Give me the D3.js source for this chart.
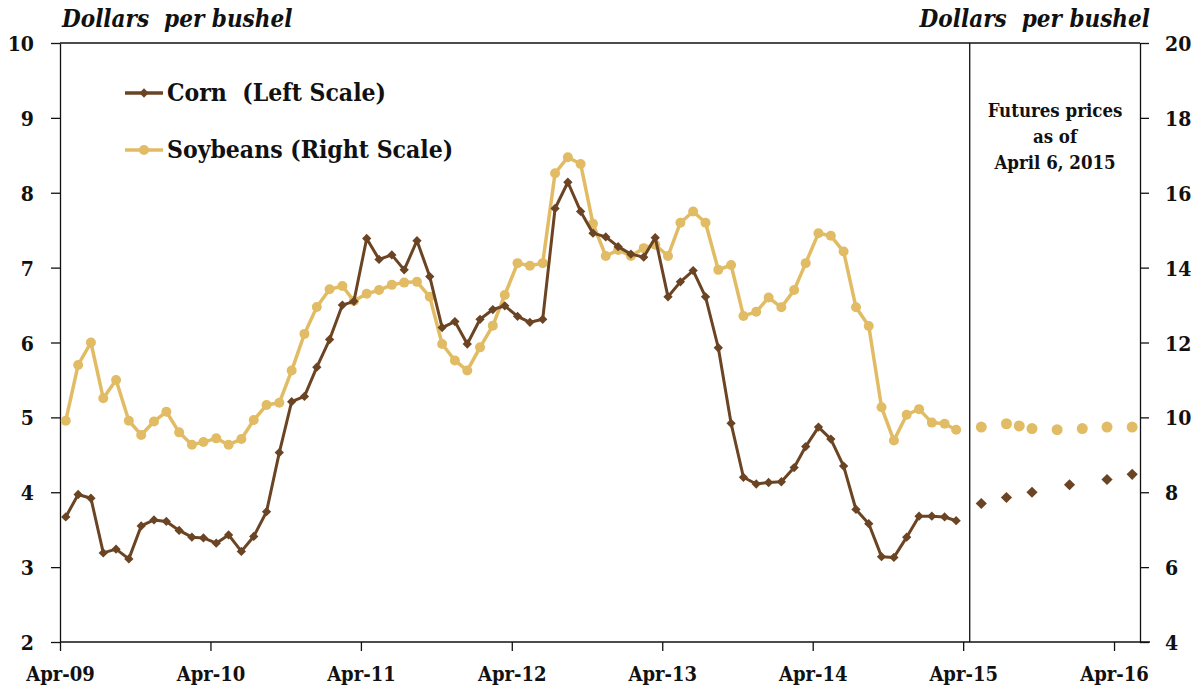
<!DOCTYPE html>
<html>
<head>
<meta charset="utf-8">
<script src="https://cdn.jsdelivr.net/npm/d3@7"></script>
<style>
	body { margin: 0; background: #fff; }
	text { font-family: "DejaVu Serif Condensed", "DejaVu Serif", serif; font-weight: bold; fill: #111; }
</style>
</head>
<body>
<div id="chart"></div>
<script>
// monthly averages Apr-09 .. Mar-15 (dollars per bushel)
var cornPrices = [3.67, 3.97, 3.92, 3.19, 3.24, 3.11, 3.55, 3.63, 3.61, 3.49, 3.40, 3.39,
	3.32, 3.43, 3.21, 3.41, 3.74, 4.53, 5.21, 5.28, 5.67, 6.04, 6.50, 6.55,
	7.39, 7.11, 7.17, 6.97, 7.36, 6.88, 6.20, 6.28, 5.98, 6.31, 6.44, 6.49,
	6.35, 6.27, 6.31, 7.79, 8.14, 7.75, 7.46, 7.41, 7.28, 7.18, 7.14, 7.40,
	6.61, 6.81, 6.96, 6.61, 5.93, 4.92, 4.20, 4.11, 4.13, 4.14, 4.33, 4.61,
	4.87, 4.71, 4.35, 3.77, 3.58, 3.14, 3.13, 3.40, 3.68, 3.68, 3.67, 3.62];

var soyPrices = [9.91, 11.40, 12.00, 10.51, 11.00, 9.91, 9.53, 9.89, 10.15, 9.60, 9.27, 9.34,
	9.44, 9.27, 9.42, 9.93, 10.33, 10.39, 11.25, 12.23, 12.95, 13.42, 13.51, 13.11,
	13.30, 13.40, 13.54, 13.60, 13.62, 13.22, 11.96, 11.52, 11.25, 11.87, 12.45, 13.27,
	14.12, 14.05, 14.12, 16.52, 16.95, 16.77, 15.17, 14.31, 14.47, 14.31, 14.52, 14.61,
	14.31, 15.20, 15.50, 15.20, 13.94, 14.07, 12.71, 12.82, 13.20, 12.94, 13.40, 14.12,
	14.92, 14.85, 14.43, 12.94, 12.44, 10.27, 9.38, 10.07, 10.22, 9.86, 9.83, 9.67];

// futures contracts as of April 6, 2015
var cornFutMonths = ["2015-05", "2015-07", "2015-09", "2015-12", "2016-03", "2016-05"];
var cornFutPrices = [3.85, 3.93, 4.00, 4.10, 4.17, 4.24];

var soyFutMonths = ["2015-05", "2015-07", "2015-08", "2015-09", "2015-11", "2016-01", "2016-03", "2016-05"];
var soyFutPrices = [9.74, 9.83, 9.77, 9.70, 9.67, 9.70, 9.74, 9.74];

var xTickLabels = ["Apr-09", "Apr-10", "Apr-11", "Apr-12", "Apr-13", "Apr-14", "Apr-15", "Apr-16"];
var leftTicks = [2, 3, 4, 5, 6, 7, 8, 9, 10];
var rightTicks = [4, 6, 8, 10, 12, 14, 16, 18, 20];

var cornColor = "#6b4423";
var soyColor = "#e1bc64";

var svgWidth = 1204;
var svgHeight = 694;

var plot = { left: 60, right: 1140, top: 43, bottom: 642 };

var svg = d3.select("#chart")
	.append("svg")
	.attr("width", svgWidth)
	.attr("height", svgHeight);

var parseMonth = d3.timeParse("%Y-%m");
var mid = d => d3.timeDay.offset(d, 14);

// historical months are the 72 months from Apr-09
var histMonths = d3.timeMonth.range(new Date(2009, 3, 1), new Date(2015, 3, 1));

var cornData = histMonths.map((m, i) => ({ date: mid(m), value: cornPrices[i] }));
var soyData = histMonths.map((m, i) => ({ date: mid(m), value: soyPrices[i] }));
var cornFut = cornFutMonths.map((m, i) => ({ date: mid(parseMonth(m)), value: cornFutPrices[i] }));
var soyFut = soyFutMonths.map((m, i) => ({ date: mid(parseMonth(m)), value: soyFutPrices[i] }));

var xScale = d3.scaleTime()
	.domain([new Date(2009, 3, 1), new Date(2016, 5, 3)])
	.range([plot.left, plot.right]);

var yLeft = d3.scaleLinear().domain([2, 10]).range([plot.bottom, plot.top]);
var yRight = d3.scaleLinear().domain([4, 20]).range([plot.bottom, plot.top]);

// axes
var xTicks = xTickLabels.map(s => d3.timeParse("%b-%y")(s));

var bottomAxis = d3.axisBottom(xScale)
	.tickValues(xTicks)
	.tickFormat((d, i) => xTickLabels[i])
	.tickSizeInner(9)
	.tickSizeOuter(0)
	.tickPadding(16);

var leftAxis = d3.axisLeft(yLeft)
	.tickValues(leftTicks)
	.tickSizeInner(9)
	.tickSizeOuter(0)
	.tickPadding(17);

var rightAxis = d3.axisRight(yRight)
	.tickValues(rightTicks)
	.tickSizeInner(9)
	.tickSizeOuter(0)
	.tickPadding(16);

var xAxisG = svg.append("g")
	.attr("transform", `translate(0, ${plot.bottom})`)
	.call(bottomAxis);

var leftG = svg.append("g")
	.attr("transform", `translate(${plot.left}, 0)`)
	.call(leftAxis);

var rightG = svg.append("g")
	.attr("transform", `translate(${plot.right}, 0)`)
	.call(rightAxis);

xAxisG.select(".domain").attr("d", `M${plot.left},0H${plot.right + 10}`);

[xAxisG, leftG, rightG].forEach(function(g) {
	g.attr("font-family", null);
	g.selectAll("path, line").attr("stroke", "#111").attr("stroke-width", 1.3);
	g.selectAll("text").attr("fill", "#111");
});
leftG.selectAll("text").attr("font-size", 21).attr("dy", "0.36em");
rightG.selectAll("text").attr("font-size", 21).attr("dy", "0.36em");
xAxisG.selectAll("text").attr("font-size", 20);

// top border
svg.append("line")
	.attr("x1", plot.left)
	.attr("x2", plot.right)
	.attr("y1", plot.top)
	.attr("y2", plot.top)
	.attr("stroke", "#111")
	.attr("stroke-width", 1.3);

// separator between history and futures
var sepX = (xScale(cornData[cornData.length - 1].date) + xScale(cornFut[0].date)) / 2 + 1;
svg.append("line")
	.attr("x1", sepX)
	.attr("x2", sepX)
	.attr("y1", plot.top)
	.attr("y2", plot.bottom)
	.attr("stroke", "#111")
	.attr("stroke-width", 1.3);

// lines
var cornLine = d3.line().x(d => xScale(d.date)).y(d => yLeft(d.value));
var soyLine = d3.line().x(d => xScale(d.date)).y(d => yRight(d.value));

var diamond = d3.symbol().type(d3.symbolDiamond2);

svg.append("path")
	.datum(soyData)
	.attr("d", soyLine)
	.attr("fill", "none")
	.attr("stroke", soyColor)
	.attr("stroke-width", 3.5)
	.attr("stroke-linejoin", "round");

svg.selectAll(".soy-dot")
	.data(soyData)
	.enter()
	.append("circle")
	.attr("class", "soy-dot")
	.attr("cx", d => xScale(d.date))
	.attr("cy", d => yRight(d.value))
	.attr("r", 5)
	.attr("fill", soyColor);

svg.append("path")
	.datum(cornData)
	.attr("d", cornLine)
	.attr("fill", "none")
	.attr("stroke", cornColor)
	.attr("stroke-width", 3)
	.attr("stroke-linejoin", "round");

svg.selectAll(".corn-dot")
	.data(cornData)
	.enter()
	.append("path")
	.attr("class", "corn-dot")
	.attr("transform", d => `translate(${xScale(d.date)}, ${yLeft(d.value)})`)
	.attr("d", diamond.size(55))
	.attr("fill", cornColor);

// futures points
svg.selectAll(".soy-fut")
	.data(soyFut)
	.enter()
	.append("circle")
	.attr("class", "soy-fut")
	.attr("cx", d => xScale(d.date))
	.attr("cy", d => yRight(d.value))
	.attr("r", 5.5)
	.attr("fill", soyColor);

svg.selectAll(".corn-fut")
	.data(cornFut)
	.enter()
	.append("path")
	.attr("class", "corn-fut")
	.attr("transform", d => `translate(${xScale(d.date)}, ${yLeft(d.value)})`)
	.attr("d", diamond.size(80))
	.attr("fill", cornColor);

// axis titles
svg.append("text")
	.attr("x", 62)
	.attr("y", 27)
	.attr("font-size", 24)
	.attr("font-style", "italic")
	.attr("xml:space", "preserve")
	.text("Dollars  per bushel");

svg.append("text")
	.attr("x", 1150)
	.attr("y", 27)
	.attr("font-size", 24)
	.attr("font-style", "italic")
	.attr("text-anchor", "end")
	.attr("xml:space", "preserve")
	.text("Dollars  per bushel");

// legend
var legendItems = [
	{ label: "Corn  (Left Scale)", color: cornColor, shape: "diamond", y: 93 },
	{ label: "Soybeans (Right Scale)", color: soyColor, shape: "circle", y: 150 }
];

var legend = svg.append("g");

legendItems.forEach(function(item) {
	legend.append("line")
		.attr("x1", 125)
		.attr("x2", 163)
		.attr("y1", item.y)
		.attr("y2", item.y)
		.attr("stroke", item.color)
		.attr("stroke-width", 3.5);
	if (item.shape === "diamond") {
		legend.append("path")
			.attr("transform", `translate(144, ${item.y})`)
			.attr("d", diamond.size(55))
			.attr("fill", item.color);
	}
	else {
		legend.append("circle")
			.attr("cx", 144)
			.attr("cy", item.y)
			.attr("r", 5)
			.attr("fill", item.color);
	}
	legend.append("text")
		.attr("x", 167)
		.attr("y", item.y + 8)
		.attr("font-size", 24.5)
		.attr("xml:space", "preserve")
		.text(item.label);
});

// futures note
var noteLines = ["Futures prices", "as of", "April 6, 2015"];
svg.selectAll(".note")
	.data(noteLines)
	.enter()
	.append("text")
	.attr("class", "note")
	.attr("x", 1055)
	.attr("y", (d, i) => 117 + i * 26)
	.attr("font-size", 18.5)
	.attr("text-anchor", "middle")
	.text(d => d);
</script>
</body>
</html>
